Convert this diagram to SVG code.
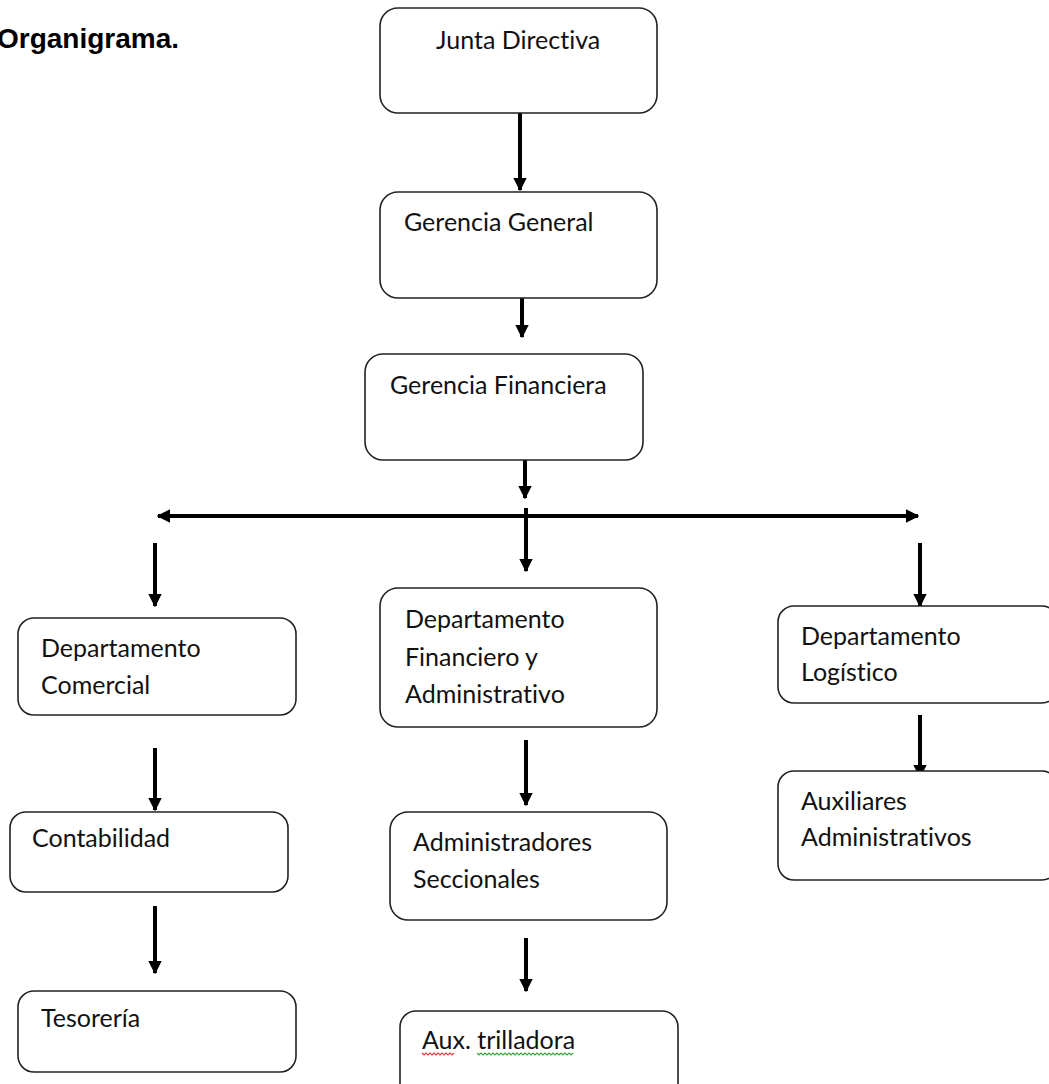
<svg xmlns="http://www.w3.org/2000/svg" width="1049" height="1084" viewBox="0 0 1049 1084">
  <defs>
    <marker id="ah" viewBox="0 0 10 10" refX="9" refY="5" markerWidth="3.4" markerHeight="3.4" orient="auto-start-reverse" markerUnits="strokeWidth">
      <path d="M0,0 L10,5 L0,10 z" fill="#000"/>
    </marker>
    <style>
      .box { fill: #fff; stroke: #222; stroke-width: 1.6; }
      .lbl { font-family: Lato, "Liberation Sans", sans-serif; font-size: 25px; fill: #111; font-variant-ligatures: none; }
      .title { font-family: "Liberation Sans", Arial, sans-serif; font-size: 28px; font-weight: bold; fill: #000; }
      .arr { stroke: #000; stroke-width: 4; fill: none; marker-end: url(#ah); }
      .arr2 { stroke: #000; stroke-width: 4; fill: none; marker-end: url(#ah); marker-start: url(#ah); }
      .sq-red { stroke: #e23c3c; stroke-width: 1.2; fill: none; }
      .sq-green { stroke: #3aa63a; stroke-width: 1.2; fill: none; }
    </style>
  </defs>
  <rect width="1049" height="1084" fill="#fff"/>

  <text class="title" x="-3" y="48">Organigrama.</text>

  <!-- connectors -->
  <g id="connectors">
    <line class="arr" x1="520" y1="113" x2="520" y2="190"/>
    <line class="arr" x1="522" y1="298" x2="522" y2="337"/>
    <line class="arr" x1="525" y1="460" x2="525" y2="498"/>
    <line class="arr2" x1="158" y1="516" x2="918" y2="516"/>
    <line class="arr" x1="526" y1="508" x2="526" y2="571"/>
    <line class="arr" x1="155" y1="543" x2="155" y2="606"/>
    <line class="arr" x1="920" y1="543" x2="920" y2="606"/>
    <line class="arr" x1="155" y1="748" x2="155" y2="810"/>
    <line class="arr" x1="155" y1="906" x2="155" y2="973"/>
    <line class="arr" x1="526" y1="740" x2="526" y2="805"/>
    <line class="arr" x1="526" y1="938" x2="526" y2="991"/>
    <line class="arr" x1="920" y1="715" x2="920" y2="777"/>
  </g>

  <g id="junta-directiva">
    <rect class="box" x="380" y="8" width="277" height="105" rx="18"/>
    <text class="lbl" x="436" y="49">Junta Directiva</text>
  </g>

  <g id="gerencia-general">
    <rect class="box" x="380" y="192" width="277" height="106" rx="18"/>
    <text class="lbl" x="404" y="231">Gerencia General</text>
  </g>

  <g id="gerencia-financiera">
    <rect class="box" x="365" y="354" width="278" height="106" rx="18"/>
    <text class="lbl" x="390" y="394">Gerencia Financiera</text>
  </g>

  <g id="depto-comercial">
    <rect class="box" x="18" y="618" width="278" height="97" rx="16"/>
    <text class="lbl" x="41" y="657">Departamento</text>
    <text class="lbl" x="41" y="694">Comercial</text>
  </g>

  <g id="depto-financiero">
    <rect class="box" x="380" y="588" width="277" height="139" rx="18"/>
    <text class="lbl" x="405" y="628">Departamento</text>
    <text class="lbl" x="405" y="666">Financiero y</text>
    <text class="lbl" x="405" y="703">Administrativo</text>
  </g>

  <g id="depto-logistico">
    <rect class="box" x="778" y="606" width="280" height="97" rx="16"/>
    <text class="lbl" x="801" y="645">Departamento</text>
    <text class="lbl" x="801" y="681">Logístico</text>
  </g>

  <g id="contabilidad">
    <rect class="box" x="10" y="812" width="278" height="80" rx="16"/>
    <text class="lbl" x="32" y="847">Contabilidad</text>
  </g>

  <g id="tesoreria">
    <rect class="box" x="18" y="991" width="278" height="81" rx="16"/>
    <text class="lbl" x="41" y="1027">Tesorería</text>
  </g>

  <g id="administradores-seccionales">
    <rect class="box" x="390" y="812" width="277" height="108" rx="18"/>
    <text class="lbl" x="413" y="851">Administradores</text>
    <text class="lbl" x="413" y="888">Seccionales</text>
  </g>

  <g id="aux-trilladora">
    <rect class="box" x="400" y="1011" width="278" height="90" rx="16"/>
    <text class="lbl" x="422" y="1049">Aux. trilladora</text>
    <!-- spell-check underlines -->
    <path class="sq-red" d="M422,1053 l2,2 l2,-2 l2,2 l2,-2 l2,2 l2,-2 l2,2 l2,-2 l2,2 l2,-2 l2,2 l2,-2 l2,2 l2,-2 l2,2 l2,-2"/>
    <path class="sq-green" d="M477,1053 l2,2 l2,-2 l2,2 l2,-2 l2,2 l2,-2 l2,2 l2,-2 l2,2 l2,-2 l2,2 l2,-2 l2,2 l2,-2 l2,2 l2,-2 l2,2 l2,-2 l2,2 l2,-2 l2,2 l2,-2 l2,2 l2,-2 l2,2 l2,-2 l2,2 l2,-2 l2,2 l2,-2 l2,2 l2,-2 l2,2 l2,-2 l2,2 l2,-2 l2,2 l2,-2 l2,2 l2,-2 l2,2 l2,-2 l2,2 l2,-2 l2,2 l2,-2 l2,2 l2,-2"/>
  </g>

  <g id="auxiliares-administrativos">
    <rect class="box" x="778" y="771" width="280" height="109" rx="16"/>
    <text class="lbl" x="801" y="810">Auxiliares</text>
    <text class="lbl" x="801" y="846">Administrativos</text>
  </g>
</svg>
